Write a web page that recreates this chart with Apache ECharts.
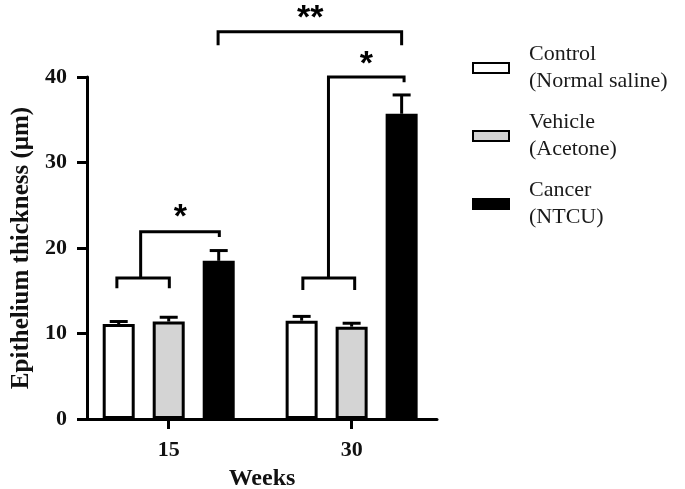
<!DOCTYPE html>
<html>
<head>
<meta charset="utf-8">
<script src="https://cdn.jsdelivr.net/npm/echarts@6/dist/echarts.min.js"></script>
<style>html,body{margin:0;padding:0;background:#fff;}#c{width:685px;height:489px;}</style>
</head>
<body>
<div id="c"></div>
<script>
// ---- data ----
const weeks = [15, 30];
const seriesNames = ['Control\n(Normal saline)', 'Vehicle\n(Acetone)', 'Cancer\n(NTCU)'];
const control = [11.1, 11.5];
const controlErr = [0.3, 0.5];
const vehicle = [11.4, 10.8];
const vehicleErr = [0.5, 0.4];
const cancer = [18.5, 35.7];
const cancerErr = [1.2, 2.2];
const yTicks = [0, 10, 20, 30, 40];
// significance brackets: polyline points in axis units [week, thickness]
const brackets = [
  [[10.75, 15.3], [10.75, 16.5], [15.05, 16.5], [15.05, 15.3]],
  [[12.7, 16.5], [12.7, 21.9], [19.15, 21.9], [19.15, 21.3]],
  [[26.0, 15.1], [26.0, 16.5], [30.25, 16.5], [30.25, 15.1]],
  [[28.1, 16.5], [28.1, 40.0], [34.3, 40.0], [34.3, 39.4]],
  [[19.05, 43.7], [19.05, 45.3], [34.1, 45.3], [34.1, 43.7]]
];
const stars = [[15.95, 23.5, '*'], [31.2, 41.5, '*'], [26.6, 46.8, '**']];

// ---- chart ----
const BAR_W = 32, GAP = 18, PITCH = BAR_W + GAP;
const fills = ['#ffffff', '#d4d4d4', '#000000'];
const values = [control, vehicle, cancer];
const errs = [controlErr, vehicleErr, cancerErr];

const chart = echarts.init(document.getElementById('c'), null, {renderer: 'canvas'});

const barSeries = values.map((vals, k) => ({
  type: 'bar',
  name: seriesNames[k],
  data: weeks.map((w, i) => [w, vals[i]]),
  barWidth: BAR_W,
  barGap: (GAP / BAR_W * 100) + '%',
  itemStyle: {color: fills[k], borderColor: '#000', borderWidth: 3},
  emphasis: {disabled: true},
  z: 2
}));

const errData = [];
values.forEach((vals, k) => weeks.forEach((w, i) => errData.push([w, vals[i], errs[k][i], k])));

const errSeries = {
  type: 'custom',
  data: errData,
  z: 3,
  silent: true,
  renderItem: function (params, api) {
    const x = api.value(0), v = api.value(1), e = api.value(2), k = api.value(3);
    const b = api.coord([x, v]);
    const t = api.coord([x, v + e]);
    const cx = b[0] + (k - 1) * PITCH;
    return {
      type: 'group',
      children: [
        {type: 'line', shape: {x1: cx, y1: b[1], x2: cx, y2: t[1]}, style: {stroke: '#000', lineWidth: 3}},
        {type: 'line', shape: {x1: cx - 9, y1: t[1], x2: cx + 9, y2: t[1]}, style: {stroke: '#000', lineWidth: 3}}
      ]
    };
  }
};

const bracketSeries = {
  type: 'custom',
  data: brackets.map((b, i) => [b[0][0], b[0][1], i]),
  z: 4,
  silent: true,
  clip: false,
  renderItem: function (params, api) {
    const pts = brackets[api.value(2)].map(p => api.coord(p));
    return {type: 'polyline', shape: {points: pts}, style: {stroke: '#000', lineWidth: 3, fill: null, lineJoin: 'miter'}};
  }
};

const starSeries = {
  type: 'custom',
  data: stars.map((s, i) => [s[0], s[1], i]),
  z: 4,
  silent: true,
  clip: false,
  renderItem: function (params, api) {
    const p = api.coord([api.value(0), api.value(1)]);
    return {
      type: 'text',
      x: p[0], y: p[1],
      style: {text: stars[api.value(2)][2], fontFamily: 'Liberation Sans', fontWeight: 'bold', fontSize: 34, fill: '#000', align: 'center', verticalAlign: 'middle'}
    };
  }
};

chart.setOption({
  animation: false,
  backgroundColor: '#fff',
  grid: {left: 87, right: 248, top: 77, bottom: 70, containLabel: false, outerBoundsMode: 'none'},
  legend: {
    left: 467, top: 36,
    orient: 'vertical',
    icon: 'rect',
    itemWidth: 36, itemHeight: 10,
    itemGap: 14,
    selectedMode: false,
    data: seriesNames,
    textStyle: {fontFamily: 'Liberation Serif', fontSize: 22, color: '#1a1a1a', lineHeight: 27, padding: [0, 0, 0, 15]}
  },
  xAxis: {
    type: 'value',
    min: 8.3, max: 37,
    name: 'Weeks',
    nameLocation: 'middle',
    nameGap: 48,
    nameTextStyle: {fontFamily: 'Liberation Serif', fontWeight: 'bold', fontSize: 24, color: '#111'},
    axisLine: {show: true, onZero: false, lineStyle: {color: '#000', width: 3}},
    axisTick: {show: true, length: 10, lineStyle: {color: '#000', width: 3}, customValues: weeks},
    axisLabel: {fontFamily: 'Liberation Serif', fontWeight: 'bold', fontSize: 22, color: '#111', margin: 20, customValues: weeks},
    splitLine: {show: false}
  },
  yAxis: {
    type: 'value',
    min: yTicks[0], max: yTicks[yTicks.length - 1], interval: 10,
    name: 'Epithelium thickness (μm)',
    nameLocation: 'middle',
    nameGap: 50,
    nameTextStyle: {fontFamily: 'Liberation Serif', fontWeight: 'bold', fontSize: 25, color: '#111'},
    axisLine: {show: true, lineStyle: {color: '#000', width: 3}},
    axisTick: {show: true, length: 10, lineStyle: {color: '#000', width: 3}},
    axisLabel: {fontFamily: 'Liberation Serif', fontWeight: 'bold', fontSize: 22, color: '#111', margin: 20},
    splitLine: {show: false}
  },
  series: [...barSeries, errSeries, bracketSeries, starSeries]
});
</script>
</body>
</html>
